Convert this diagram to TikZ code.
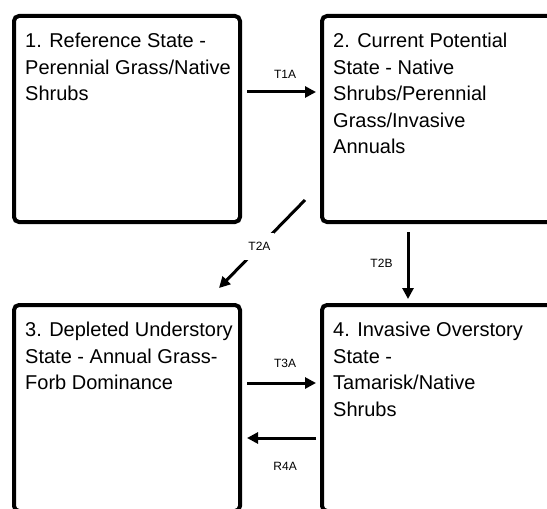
\documentclass[tikz,border=0pt]{standalone}
\usepackage{fontspec}
\setmainfont{Liberation Sans}
\usepackage{tikz}
\usetikzlibrary{arrows.meta}
\newcommand\statebox[4]{
  \node[statebox, minimum width=#3, anchor=north west] (#1) at #2 {};
  \node[statetext] (#1text) at ([shift={(11bp,-17bp)}]#1.north west) {#4};
}

\begin{document}
\begin{tikzpicture}[x=1bp, y=-1bp,
  statebox/.style={draw, line width=4bp, rounded corners=5bp, outer sep=0pt,
    minimum height=206bp, inner sep=0pt},
  statetext/.style={anchor=north west, align=left, inner sep=0pt,
    font=\fontsize{20bp}{26.5bp}\selectfont},
  trans/.style={line width=3bp, -{Triangle[length=11bp,width=11bp]}},
  lbl/.style={font=\fontsize{12bp}{14bp}\selectfont, inner sep=0pt}]
\useasboundingbox (0,0) rectangle (547,509);
\clip (0,0) rectangle (547,509);
\statebox{s1}{(14,16)}{226bp}{1. Reference State -\\Perennial Grass/Native\\Shrubs}
\statebox{s2}{(322,16)}{240bp}{2. Current Potential\\State - Native\\Shrubs/Perennial\\Grass/Invasive\\Annuals}
\statebox{s3}{(14,305)}{226bp}{3. Depleted Understory\\State - Annual Grass-\\Forb Dominance}
\statebox{s4}{(322,305)}{240bp}{4. Invasive Overstory\\State -\\Tamarisk/Native\\Shrubs}

% transitions
\draw[trans, shorten <=7bp, shorten >=6bp] ([yshift=-76bp]s1.north east)
  -- node[lbl, pos=0.55, above=12bp] (l1a) {T1A} ([yshift=-76bp]s2.north west);
\draw[trans, shorten <=10bp, shorten >=6bp] ([xshift=86bp]s2.south west)
  -- node[lbl, left=14bp] (l2b) {T2B} ([xshift=86bp]s4.north west);
\draw[trans] ([shift={(-17bp,22bp)}]s2.south west)
  -- node[lbl, pos=0.53, fill=white, inner xsep=4bp, inner ysep=9bp] (l2a) {T2A}
  ([shift={(-21bp,17bp)}]s3.north east);
\draw[trans, shorten <=7bp, shorten >=6bp] ([yshift=-78bp]s3.north east)
  -- node[lbl, pos=0.55, above=14bp] (l3a) {T3A} ([yshift=-78bp]s4.north west);
\draw[trans, shorten <=6bp, shorten >=7bp] ([yshift=-133bp]s4.north west)
  -- node[lbl, pos=0.45, below=23bp] (r4a) {R4A} ([yshift=-133bp]s3.north east);
\end{tikzpicture}
\end{document}
